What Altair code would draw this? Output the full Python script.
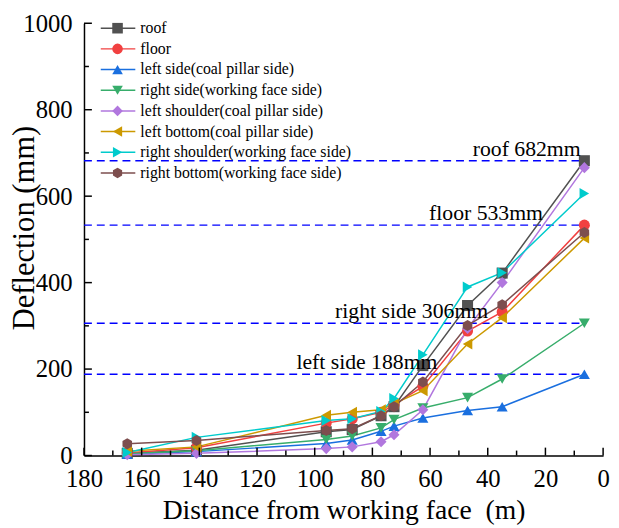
import altair as alt
import pandas as pd

FONT = "Liberation Serif"

distance = [165, 141, 96, 87, 77, 72.5, 62.5, 47, 35, 6.5]

series_names = [
    "roof",
    "floor",
    "left side(coal pillar side)",
    "right side(working face side)",
    "left shoulder(coal pillar side)",
    "left bottom(coal pillar side)",
    "right shoulder(working face side)",
    "right bottom(working face side)",
]

roof = [5, 12, 55, 60, 92, 113, 208, 347, 422, 682]
floor = [6, 18, 75, 85, 100, 117, 160, 288, 332, 533]
left_side = [3, 9, 28, 36, 56, 68, 87, 104, 113, 188]
right_side = [4, 11, 37, 45, 64, 83, 110, 134, 177, 306]
left_shoulder = [2, 5, 16, 20, 32, 48, 106, 294, 400, 666]
left_bottom = [10, 20, 93, 100, 106, 120, 150, 258, 319, 503]
right_shoulder = [7, 42, 81, 85, 102, 132, 233, 390, 423, 606]
right_bottom = [27, 35, 58, 62, 92, 113, 170, 301, 349, 516]

all_series = [roof, floor, left_side, right_side, left_shoulder,
              left_bottom, right_shoulder, right_bottom]

colors = ["#515151", "#F14040", "#1A6FDF", "#37AD6B",
          "#B177DE", "#CC9900", "#00CBCC", "#7D4E4E"]
HEX = "M0,-1L0.866,-0.5L0.866,0.5L0,1L-0.866,0.5L-0.866,-0.5Z"
shapes = ["square", "circle", "triangle-up", "triangle-down",
          "diamond", "triangle-left", "triangle-right", HEX]

max_labels = ["roof 682mm", "floor 533mm", "right side 306mm", "left side 188mm"]
max_values = [682, 533, 306, 188]
label_anchor = [26.5, 40.6, 66.4, 81.9]

x_major = list(range(0, 181, 20))
x_minor = list(range(10, 180, 20))
y_major = list(range(0, 1001, 200))
y_minor = list(range(100, 1000, 200))

rows = []
for name, vals in zip(series_names, all_series):
    for d, v in zip(distance, vals):
        rows.append({"series": name, "distance": d, "deflection": v})
df = pd.DataFrame(rows)

ref_df = pd.DataFrame({"label": max_labels, "value": max_values,
                       "anchor": label_anchor,
                       "start": [180] * 4, "end": [distance[-1]] * 4})
leg_df = pd.DataFrame({"series": series_names, "idx": list(range(len(series_names)))})

xscale = alt.Scale(domain=[0, 180], reverse=True, nice=False, zero=False)
yscale = alt.Scale(domain=[0, 1000], nice=False)
color = alt.Color("series:N", scale=alt.Scale(domain=series_names, range=colors), legend=None)
shape = alt.Shape("series:N", scale=alt.Scale(domain=series_names, range=shapes), legend=None)

xaxis = alt.Axis(values=x_major, format="d", ticks=False, grid=False, domainColor="black",
                 domainWidth=1.5, labelFont=FONT, labelFontSize=25, labelColor="black",
                 labelPadding=11, labelFlush=False, labelOverlap=False,
                 title="Distance from working face\u00a0 (m)", titleFont=FONT,
                 titleFontSize=28, titleFontWeight="normal", titleColor="black",
                 titleY=64, titleBaseline="alphabetic")
yaxis = alt.Axis(values=y_major, format="d", ticks=False, grid=False, domainColor="black",
                 domainWidth=1.5, labelFont=FONT, labelFontSize=25, labelColor="black",
                 labelPadding=12, labelFlush=False, labelOverlap=False,
                 title="Deflection (mm)", titleFont=FONT, titleFontSize=31,
                 titleFontWeight="normal", titleColor="black", titleAngle=270,
                 titleX=-51, titleY=207, titleAlign="center", titleBaseline="alphabetic")

lines = alt.Chart(df).mark_line(strokeWidth=1.5).encode(
    x=alt.X("distance:Q", scale=xscale, axis=xaxis),
    y=alt.Y("deflection:Q", scale=yscale, axis=yaxis),
    color=color, detail="series:N")

points = alt.Chart(df).mark_point(filled=True, size=125, opacity=1).encode(
    x=alt.X("distance:Q", scale=xscale),
    y=alt.Y("deflection:Q", scale=yscale),
    color=color, shape=shape)

dashes = alt.Chart(ref_df).mark_rule(color="#0000FF", strokeWidth=1.5, strokeDash=[8, 5]).encode(
    x=alt.X("start:Q", scale=xscale), x2="end:Q",
    y=alt.Y("value:Q", scale=yscale))

ann = alt.Chart(ref_df).mark_text(font=FONT, fontSize=22, baseline="alphabetic",
                                  align="center", dy=-5, color="black").encode(
    x=alt.X("anchor:Q", scale=xscale), y=alt.Y("value:Q", scale=yscale), text="label:N")

def xticks(vals, length):
    return alt.Chart(pd.DataFrame({"t": vals})).mark_rule(color="black", strokeWidth=1.5).encode(
        x=alt.X("t:Q", scale=xscale), y=alt.value(438), y2=alt.value(438 - length))

def yticks(vals, length):
    return alt.Chart(pd.DataFrame({"t": vals})).mark_rule(color="black", strokeWidth=1.5).encode(
        y=alt.Y("t:Q", scale=yscale), x=alt.value(0), x2=alt.value(length))

leg_base = alt.Chart(leg_df).transform_calculate(ly="5 + datum.idx * 20.95")
leg_lines = leg_base.mark_rule(strokeWidth=1.5).encode(
    x=alt.value(17), x2=alt.value(52), y=alt.Y("ly:Q", scale=None), color=color)
leg_pts = leg_base.mark_point(filled=True, size=115, opacity=1).encode(
    x=alt.value(34), y=alt.Y("ly:Q", scale=None), color=color, shape=shape)
leg_text = leg_base.mark_text(font=FONT, fontSize=16, align="left", baseline="middle",
                              color="black").encode(
    x=alt.value(57), y=alt.Y("ly:Q", scale=None), text="series:N")

chart = alt.layer(
    dashes, lines, points, ann,
    xticks(x_major, 8), xticks(x_minor, 5), yticks(y_major, 8), yticks(y_minor, 5),
    leg_lines, leg_pts, leg_text,
).properties(
    width=526, height=438,
    autosize=alt.AutoSizeParams(type="none"),
    padding={"left": 77, "top": 12, "right": 8, "bottom": 72},
    background="white",
).configure_view(stroke=None)

chart.save("out.html", embed_options={"renderer": "svg", "actions": False})
